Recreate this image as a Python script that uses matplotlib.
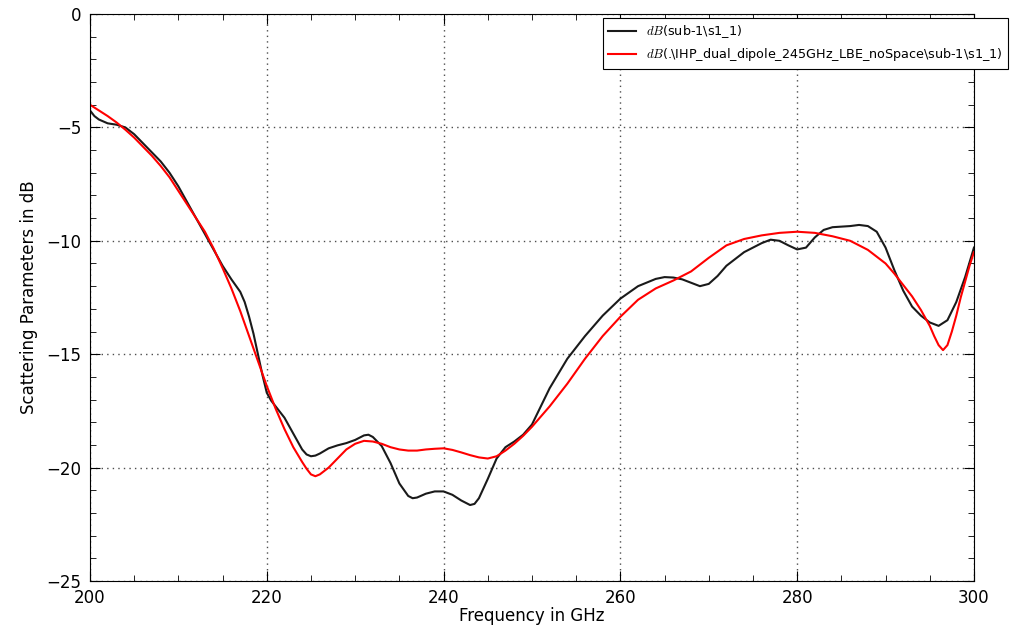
import matplotlib
matplotlib.use("Agg")
import matplotlib.pyplot as plt
from matplotlib.ticker import MultipleLocator

# frequency in GHz, S11 in dB
freq_black = [200, 200.5, 201, 202, 203, 204, 205, 206, 207, 208, 209, 210, 211, 212,
              213, 214, 215, 216, 217, 217.5, 218, 218.5, 219, 219.5, 220, 220.5, 221,
              222, 223, 224, 224.5, 225, 225.5, 226, 227, 228, 229, 230, 231, 231.5,
              232, 233, 234, 235, 236, 236.5, 237, 238, 239, 240, 241, 242, 243, 243.5,
              244, 245, 246, 247, 248, 249, 250, 251, 252, 254, 256, 258, 260, 262,
              264, 265, 266, 267, 268, 269, 270, 271, 272, 274, 276, 277, 278, 279,
              280, 281, 282, 283, 284, 286, 287, 288, 289, 290, 291, 292, 293, 294,
              295, 296, 297, 298, 299, 300]
s11_black = [-4.25, -4.5, -4.65, -4.82, -4.88, -5.0, -5.3, -5.7, -6.1, -6.5, -7.0,
             -7.6, -8.3, -9.0, -9.7, -10.4, -11.1, -11.7, -12.25, -12.7, -13.35,
             -14.1, -15.0, -15.9, -16.7, -17.05, -17.3, -17.8, -18.5, -19.2, -19.42,
             -19.5, -19.47, -19.38, -19.15, -19.02, -18.92, -18.78, -18.58, -18.55,
             -18.65, -19.05, -19.8, -20.7, -21.25, -21.35, -21.32, -21.15, -21.05,
             -21.05, -21.2, -21.45, -21.65, -21.6, -21.35, -20.5, -19.6, -19.1,
             -18.85, -18.55, -18.1, -17.3, -16.5, -15.2, -14.2, -13.3, -12.55, -12.0,
             -11.68, -11.6, -11.62, -11.7, -11.85, -12.0, -11.9, -11.55, -11.1, -10.5,
             -10.1, -9.95, -10.0, -10.2, -10.38, -10.3, -9.85, -9.52, -9.4, -9.35,
             -9.3, -9.35, -9.6, -10.3, -11.3, -12.2, -12.9, -13.3, -13.6, -13.75,
             -13.5, -12.7, -11.6, -10.3]

freq_red = [200, 201, 202, 203, 204, 205, 206, 207, 208, 209, 210, 211, 212, 213, 214,
            215, 216, 217, 218, 219, 220, 221, 222, 223, 224, 224.5, 225, 225.5, 226,
            227, 228, 229, 230, 231, 232, 233, 234, 235, 236, 237, 238, 239, 240, 241,
            242, 243, 244, 245, 246, 247, 248, 249, 250, 252, 254, 256, 258, 260, 262,
            264, 266, 268, 270, 272, 274, 276, 278, 280, 282, 284, 286, 288, 289, 290,
            291, 292, 293, 294, 295, 295.5, 296, 296.5, 297, 297.5, 298, 298.5, 299,
            299.5, 300]
s11_red = [-4.0, -4.25, -4.5, -4.78, -5.1, -5.45, -5.85, -6.25, -6.7, -7.2, -7.8, -8.4,
           -9.0, -9.6, -10.35, -11.2, -12.1, -13.1, -14.2, -15.3, -16.4, -17.4, -18.3,
           -19.1, -19.75, -20.05, -20.3, -20.38, -20.3, -20.0, -19.6, -19.2, -18.95,
           -18.82, -18.85, -18.95, -19.1, -19.2, -19.25, -19.25, -19.2, -19.17, -19.15,
           -19.22, -19.33, -19.45, -19.55, -19.6, -19.5, -19.25, -18.95, -18.6, -18.2,
           -17.3, -16.3, -15.2, -14.2, -13.35, -12.6, -12.1, -11.75, -11.35, -10.75,
           -10.2, -9.92, -9.76, -9.65, -9.6, -9.65, -9.8, -10.0, -10.4, -10.7, -11.0,
           -11.45, -11.95, -12.45, -13.05, -13.75, -14.2, -14.6, -14.82, -14.6, -14.0,
           -13.3, -12.5, -11.8, -11.1, -10.5]

label_black = r"$dB$(sub-1\s1_1)"
label_red = r"$dB$(.\IHP_dual_dipole_245GHz_LBE_noSpace\sub-1\s1_1)"

plt.rcParams['mathtext.fontset'] = 'cm'

fig = plt.figure(figsize=(10.19, 6.34), dpi=100)
ax = fig.add_axes([0.0883, 0.0836, 0.8675, 0.8943])

ax.plot(freq_black, s11_black, color='#1a1a1a', lw=1.5, label=label_black)
ax.plot(freq_red, s11_red, color='red', lw=1.5, label=label_red)

ax.set_xlim(200, 300)
ax.set_ylim(-25, 0)
ax.xaxis.set_major_locator(MultipleLocator(20))
ax.xaxis.set_minor_locator(MultipleLocator(5))
ax.yaxis.set_major_locator(MultipleLocator(5))
ax.yaxis.set_minor_locator(MultipleLocator(1))
ax.tick_params(which='both', direction='in', top=True, right=True, labelsize=12)
ax.tick_params(which='major', length=7, pad=6)
ax.tick_params(which='minor', length=4)
ax.grid(True, which='major', linestyle=(0, (1, 3)), color='0.3', lw=1.0)

ax.set_xlabel("Frequency in GHz", fontsize=12, labelpad=0)
ax.set_ylabel("Scattering Parameters in dB", fontsize=12, labelpad=6)

leg = ax.legend(loc='upper right', bbox_to_anchor=(1008 / 1019, 1 - 18 / 634),
                bbox_transform=fig.transFigure, fontsize=9.2, fancybox=False,
                framealpha=1, edgecolor='black', borderaxespad=0, handlelength=2.2)
leg.get_frame().set_linewidth(0.8)

fig.savefig("out.png", dpi=100)
